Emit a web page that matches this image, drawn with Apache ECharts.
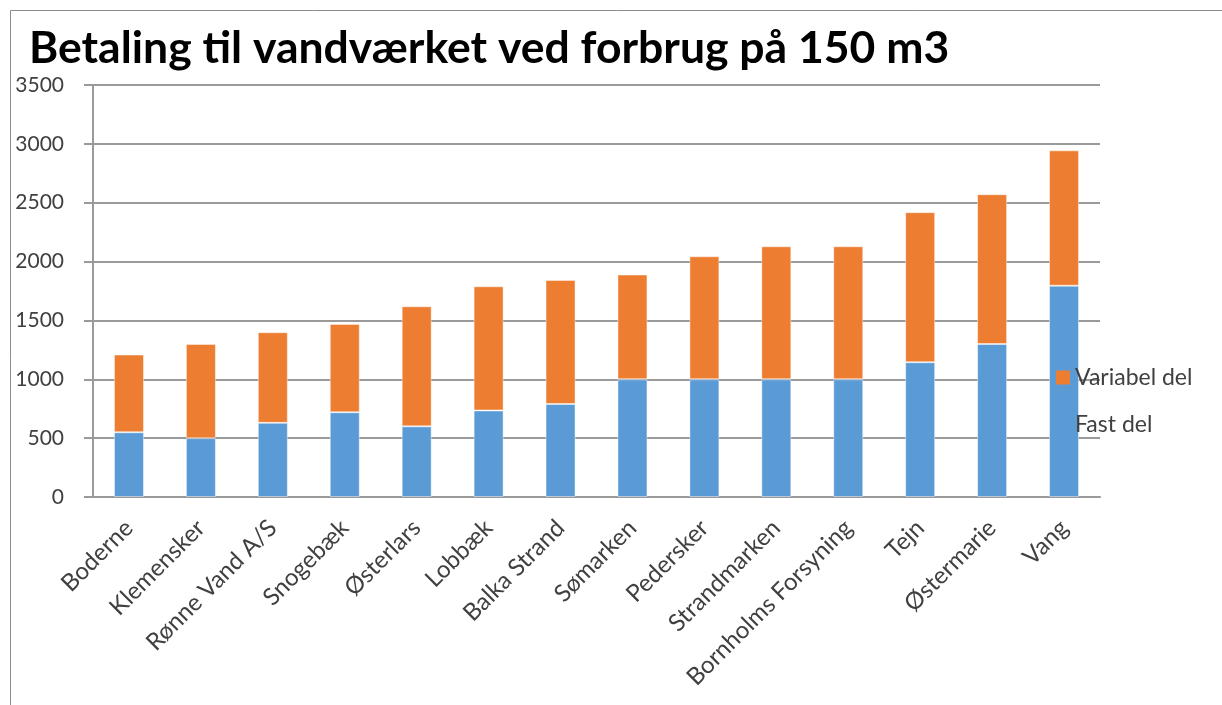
<!DOCTYPE html>
<html>
<head>
<meta charset="utf-8">
<script src="https://cdn.jsdelivr.net/npm/echarts@6/dist/echarts.min.js"></script>
<style>
  html, body { margin: 0; padding: 0; background: #fff; }
  #chart { width: 1222px; height: 705px; }
</style>
</head>
<body>
<div id="chart"></div>
<script type="text/javascript">

var vandvaerker = ['Boderne', 'Klemensker', 'Rønne Vand A/S', 'Snogebæk', 'Østerlars', 'Lobbæk', 'Balka Strand',
    'Sømarken', 'Pedersker', 'Strandmarken', 'Bornholms Forsyning', 'Tejn', 'Østermarie', 'Vang'];
var fastDel = [550, 500, 630, 720, 600, 735, 790, 1000, 1000, 1000, 1000, 1145, 1300, 1795];
var variabelDel = [660, 800, 770, 750, 1020, 1055, 1054, 890, 1045, 1130, 1130, 1275, 1272, 1150];
var yTicks = [0, 500, 1000, 1500, 2000, 2500, 3000, 3500];

var font = 'Lato, "Open Sans", sans-serif';
var grey = '#8c8c8c';

var option = {
    animation: false,
    textStyle: { fontFamily: font },
    title: {
        text: 'Betaling til vandværket ved forbrug på 150 m3',
        left: 24,
        top: 21,
        textStyle: { fontFamily: font, fontWeight: 'bold', fontSize: 44.5, color: '#000' }
    },
    graphic: [{
        type: 'rect',
        shape: { x: 10.5, y: 10.5, width: 1400, height: 900 },
        style: { fill: 'none', stroke: grey, lineWidth: 1 },
        silent: true
    }],
    legend: {
        orient: 'vertical',
        left: 1056,
        top: 366,
        padding: 0,
        itemWidth: 14,
        itemHeight: 14,
        itemGap: 24,
        icon: 'rect',
        itemStyle: { borderWidth: 0 },
        data: ['Variabel del', 'Fast del'],
        textStyle: { fontFamily: font, fontSize: 23, color: '#404040' }
    },
    grid: { left: 93, right: 122, top: 85, bottom: 208 },
    xAxis: {
        type: 'category',
        data: vandvaerker,
        axisLine: { lineStyle: { color: '#9a9a9a', width: 2 } },
        axisTick: { length: 9, lineStyle: { color: '#9a9a9a', width: 2 } },
        axisLabel: {
            rotate: 45,
            interval: 0,
            margin: 27,
            fontSize: 24,
            color: '#404040',
            fontFamily: font
        }
    },
    yAxis: {
        type: 'value',
        min: yTicks[0],
        max: yTicks[yTicks.length - 1],
        interval: yTicks[1] - yTicks[0],
        axisLine: { show: true, lineStyle: { color: '#9a9a9a', width: 2 } },
        axisTick: { show: true, length: 9, lineStyle: { color: '#9a9a9a', width: 2 } },
        splitLine: { lineStyle: { color: '#9a9a9a', width: 2 } },
        axisLabel: {
            margin: 29,
            fontSize: 21,
            color: '#404040',
            fontFamily: font,
            formatter: function (v) { return String(v); }
        }
    },
    series: [
        {
            name: 'Fast del',
            type: 'bar',
            stack: 'total',
            barWidth: 30,
            itemStyle: { color: '#5B9BD5', borderColor: 'rgba(255,255,255,0.45)', borderWidth: 1 },
            data: fastDel
        },
        {
            name: 'Variabel del',
            type: 'bar',
            stack: 'total',
            barWidth: 30,
            itemStyle: { color: '#ED7D31', borderColor: 'rgba(255,255,255,0.45)', borderWidth: 1 },
            data: variabelDel
        }
    ]
};

var chart = echarts.init(document.getElementById('chart'));
chart.setOption(option);
</script>
</body>
</html>
